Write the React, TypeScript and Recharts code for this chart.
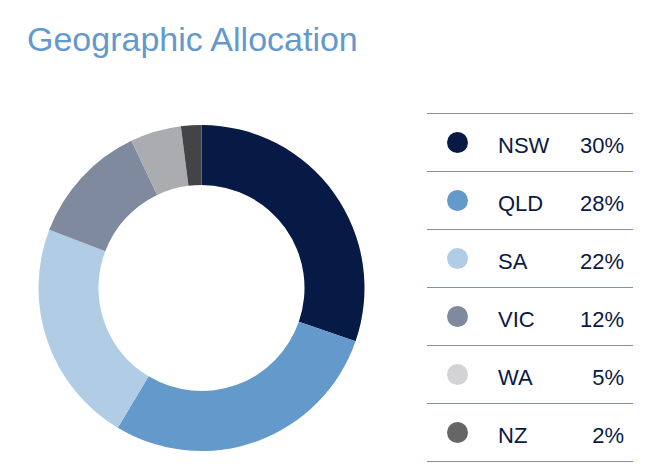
import React from "react";
import { PieChart, Pie, Cell } from "recharts";

const regions = ["NSW", "QLD", "SA", "VIC", "WA", "NZ"];
const shares = [30, 28, 22, 12, 5, 2];
const sliceColors = ["#071A45", "#6499CC", "#B1CDE6", "#808A9F", "#ABACAF", "#444446"];
const dotColors = ["#071A45", "#6499CC", "#B1CDE6", "#808A9F", "#D3D3D5", "#666666"];

const data = regions.map((name, i) => ({ name, value: shares[i] }));

const FONT = '"Liberation Sans", Arial, Helvetica, sans-serif';
const ROW_H = 58;
const LEG_LEFT = 427;
const LEG_TOP = 113;
const LEG_W = 206;

export default function App() {
  return (
    <div style={{ position: "absolute", left: 0, top: 0, width: 666, height: 472, background: "#fff", fontFamily: FONT, overflow: "hidden" }}>
      <div style={{ position: "absolute", left: 27, top: 22, fontSize: 34, lineHeight: "34px", color: "#6499CC", whiteSpace: "nowrap" }}>
        Geographic Allocation
      </div>
      <div style={{ position: "absolute", left: 0, top: 0 }}>
        <PieChart width={420} height={472} margin={{ top: 0, right: 0, bottom: 0, left: 0 }}>
          <Pie
            data={data}
            dataKey="value"
            nameKey="name"
            cx={201.5}
            cy={288}
            innerRadius={103}
            outerRadius={163}
            startAngle={90}
            endAngle={-270}
            stroke="none"
            isAnimationActive={false}
          >
            {data.map((d, i) => (
              <Cell key={d.name} fill={sliceColors[i]} stroke="none" />
            ))}
          </Pie>
        </PieChart>
      </div>
      <div style={{ position: "absolute", left: LEG_LEFT, top: LEG_TOP, width: LEG_W }}>
        {data.map((d, i) => (
          <div
            key={d.name}
            style={{
              position: "relative",
              height: ROW_H,
              borderTop: "1px solid #6A97C9",
              boxSizing: "border-box",
            }}
          >
            <div
              style={{
                position: "absolute",
                left: 19.5,
                top: 18,
                width: 21,
                height: 21,
                borderRadius: "50%",
                background: dotColors[i],
              }}
            />
            <div style={{ position: "absolute", left: 71, top: 20.5, fontSize: 22, lineHeight: "22px", color: "#0A1A45" }}>
              {d.name}
            </div>
            <div style={{ position: "absolute", right: 9, top: 20.5, fontSize: 22, lineHeight: "22px", color: "#0A1A45", textAlign: "right" }}>
              {d.value}%
            </div>
          </div>
        ))}
        <div style={{ height: 0, borderTop: "1px solid #6A97C9" }} />
      </div>
    </div>
  );
}
